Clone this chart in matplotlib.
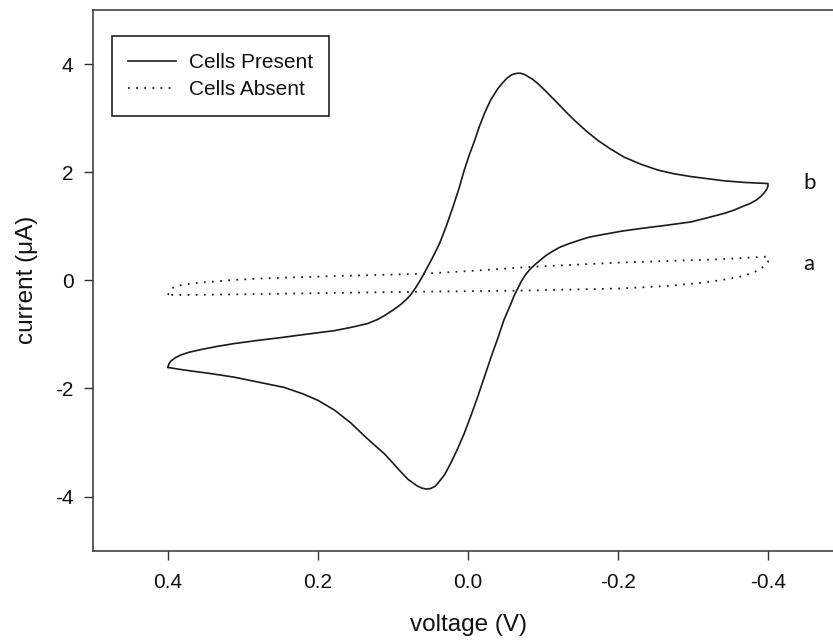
import matplotlib
matplotlib.use("Agg")
import matplotlib.pyplot as plt

plt.rcParams['font.family'] = ['Liberation Sans', 'DejaVu Sans']

# ---- data (voltage in V, current in uA) ----
# Cells Present: forward scan 0.4 -> -0.4
present_fwd_v = [0.400, 0.399, 0.396, 0.390, 0.383, 0.372, 0.356, 0.334, 0.312, 0.280,
                 0.250, 0.223, 0.200, 0.178, 0.156, 0.134, 0.120, 0.110, 0.100, 0.090,
                 0.082, 0.076, 0.070, 0.065, 0.060, 0.055, 0.048, 0.038, 0.029, 0.020,
                 0.012, 0.005, -0.002, -0.009, -0.015, -0.022, -0.030, -0.040, -0.046, -0.052,
                 -0.058, -0.062, -0.066, -0.070, -0.075, -0.080, -0.086, -0.093, -0.100, -0.110,
                 -0.120, -0.131, -0.142, -0.157, -0.173, -0.190, -0.208, -0.230, -0.253, -0.275,
                 -0.297, -0.320, -0.342, -0.370, -0.385, -0.400]
present_fwd_i = [-1.61, -1.55, -1.49, -1.43, -1.38, -1.33, -1.28, -1.22, -1.17, -1.11,
                 -1.06, -1.01, -0.97, -0.93, -0.87, -0.80, -0.72, -0.64, -0.55, -0.45,
                 -0.35, -0.26, -0.14, -0.03, 0.09, 0.22, 0.40, 0.68, 1.00, 1.36,
                 1.70, 2.04, 2.33, 2.59, 2.84, 3.09, 3.33, 3.55, 3.65, 3.74,
                 3.80, 3.82, 3.83, 3.83, 3.81, 3.77, 3.72, 3.64, 3.55, 3.41,
                 3.27, 3.11, 2.96, 2.77, 2.59, 2.43, 2.28, 2.15, 2.04, 1.97,
                 1.92, 1.88, 1.84, 1.81, 1.80, 1.79]
# Cells Present: reverse scan -0.4 -> 0.4
present_rev_v = [-0.400, -0.400, -0.398, -0.395, -0.391, -0.385, -0.376, -0.365, -0.355, -0.342,
                 -0.320, -0.297, -0.265, -0.231, -0.205, -0.177, -0.162, -0.150, -0.135, -0.122,
                 -0.112, -0.104, -0.097, -0.090, -0.083, -0.077, -0.071, -0.066, -0.061, -0.057,
                 -0.048, -0.040, -0.031, -0.022, -0.013, -0.004, 0.005, 0.014, 0.023, 0.031,
                 0.040, 0.044, 0.050, 0.056, 0.062, 0.068, 0.080, 0.089, 0.100, 0.112,
                 0.122, 0.138, 0.156, 0.178, 0.200, 0.220, 0.245, 0.280, 0.312, 0.345,
                 0.367, 0.385, 0.400]
present_rev_i = [1.79, 1.74, 1.68, 1.62, 1.56, 1.49, 1.42, 1.36, 1.30, 1.24,
                 1.16, 1.08, 1.02, 0.96, 0.91, 0.84, 0.80, 0.75, 0.68, 0.61,
                 0.53, 0.46, 0.38, 0.30, 0.21, 0.11, -0.02, -0.16, -0.30, -0.44,
                 -0.73, -1.06, -1.41, -1.78, -2.15, -2.50, -2.83, -3.12, -3.38, -3.59,
                 -3.75, -3.81, -3.85, -3.86, -3.84, -3.80, -3.68, -3.55, -3.38, -3.20,
                 -3.08, -2.88, -2.64, -2.40, -2.22, -2.10, -1.98, -1.88, -1.79, -1.72,
                 -1.68, -1.645, -1.61]

# Cells Absent: forward scan 0.4 -> -0.4
absent_fwd_v = [0.400, 0.398, 0.392, 0.380, 0.356, 0.310, 0.267, 0.178, 0.063, -0.010,
                -0.084, -0.204, -0.337, -0.400]
absent_fwd_i = [-0.27, -0.20, -0.12, -0.08, -0.04, 0.01, 0.04, 0.08, 0.12, 0.18,
                0.25, 0.33, 0.39, 0.44]
# Cells Absent: reverse scan -0.4 -> 0.4
absent_rev_v = [-0.400, -0.400, -0.391, -0.380, -0.364, -0.340, -0.315, -0.270, -0.204, -0.071,
                0.063, 0.267, 0.370, 0.400]
absent_rev_i = [0.44, 0.34, 0.22, 0.14, 0.07, 0.01, -0.04, -0.10, -0.15, -0.19,
                -0.21, -0.25, -0.27, -0.27]

x_ticks = [0.4, 0.2, 0.0, -0.2, -0.4]
x_ticklabels = ['0.4', '0.2', '0.0', '-0.2', '-0.4']
y_ticks = [-4, -2, 0, 2, 4]
y_ticklabels = ['-4', '-2', '0', '2', '4']
series_labels = ['Cells Present', 'Cells Absent']
curve_tags = ['b', 'a']
tag_positions_y = [1.80, 0.30]

# ---- figure ----
W, H = 833, 641
fig = plt.figure(figsize=(W / 100, H / 100), dpi=100)
ax = fig.add_axes([93 / W, 90.3 / H, 750 / W, 540.7 / H])

ink = '#1a1a1a'
ax.plot(present_fwd_v + present_rev_v[1:], present_fwd_i + present_rev_i[1:],
        color=ink, lw=1.2, solid_joinstyle='round', label=series_labels[0])
ax.plot(absent_fwd_v + absent_rev_v[1:], absent_fwd_i + absent_rev_i[1:],
        color='#222222', lw=1.3, linestyle=(0, (1.0, 3.5)), label=series_labels[1])

ax.set_xlim(0.5, -0.5)
ax.set_ylim(-5, 5)
ax.set_xticks(x_ticks)
ax.set_xticklabels(x_ticklabels)
ax.set_yticks(y_ticks)
ax.set_yticklabels(y_ticklabels)

for side in ['left', 'top', 'bottom', 'right']:
    ax.spines[side].set_color('#333333')
    ax.spines[side].set_linewidth(1.1)

ax.tick_params(axis='both', direction='out', length=6.5, width=1.0, color='#333333',
               labelsize=15, labelcolor='#111111')
ax.tick_params(axis='x', pad=9.5)
ax.tick_params(axis='y', pad=7.5)

ax.set_xlabel('voltage (V)', fontsize=17.5, color='#111111', va='center')
ax.xaxis.set_label_coords(0.5, -(625 - 550.7) / 540.7)
ax.set_ylabel('current (\u03bcA)', fontsize=17.5, color='#111111', va='center')
ax.yaxis.set_label_coords((27.5 - 93) / 750, 0.5)

leg = ax.legend(loc='upper left', bbox_to_anchor=((111.5 - 93) / 750, (550.7 - 36.5) / 540.7),
                fontsize=15, frameon=True, fancybox=False, shadow=False,
                handlelength=2.3, handletextpad=0.6, labelspacing=0.38,
                borderpad=0.8, borderaxespad=0.0)
leg.get_frame().set_edgecolor('#222222')
leg.get_frame().set_linewidth(1.2)
leg.get_frame().set_alpha(None)
for t in leg.get_texts():
    t.set_color('#111111')

for tag, ty in zip(curve_tags, tag_positions_y):
    ax.text(-0.455, ty, tag, fontsize=16, family=['Lato', 'DejaVu Sans'],
            ha='center', va='center', color='#111111')

fig.savefig('out.png', dpi=100)
